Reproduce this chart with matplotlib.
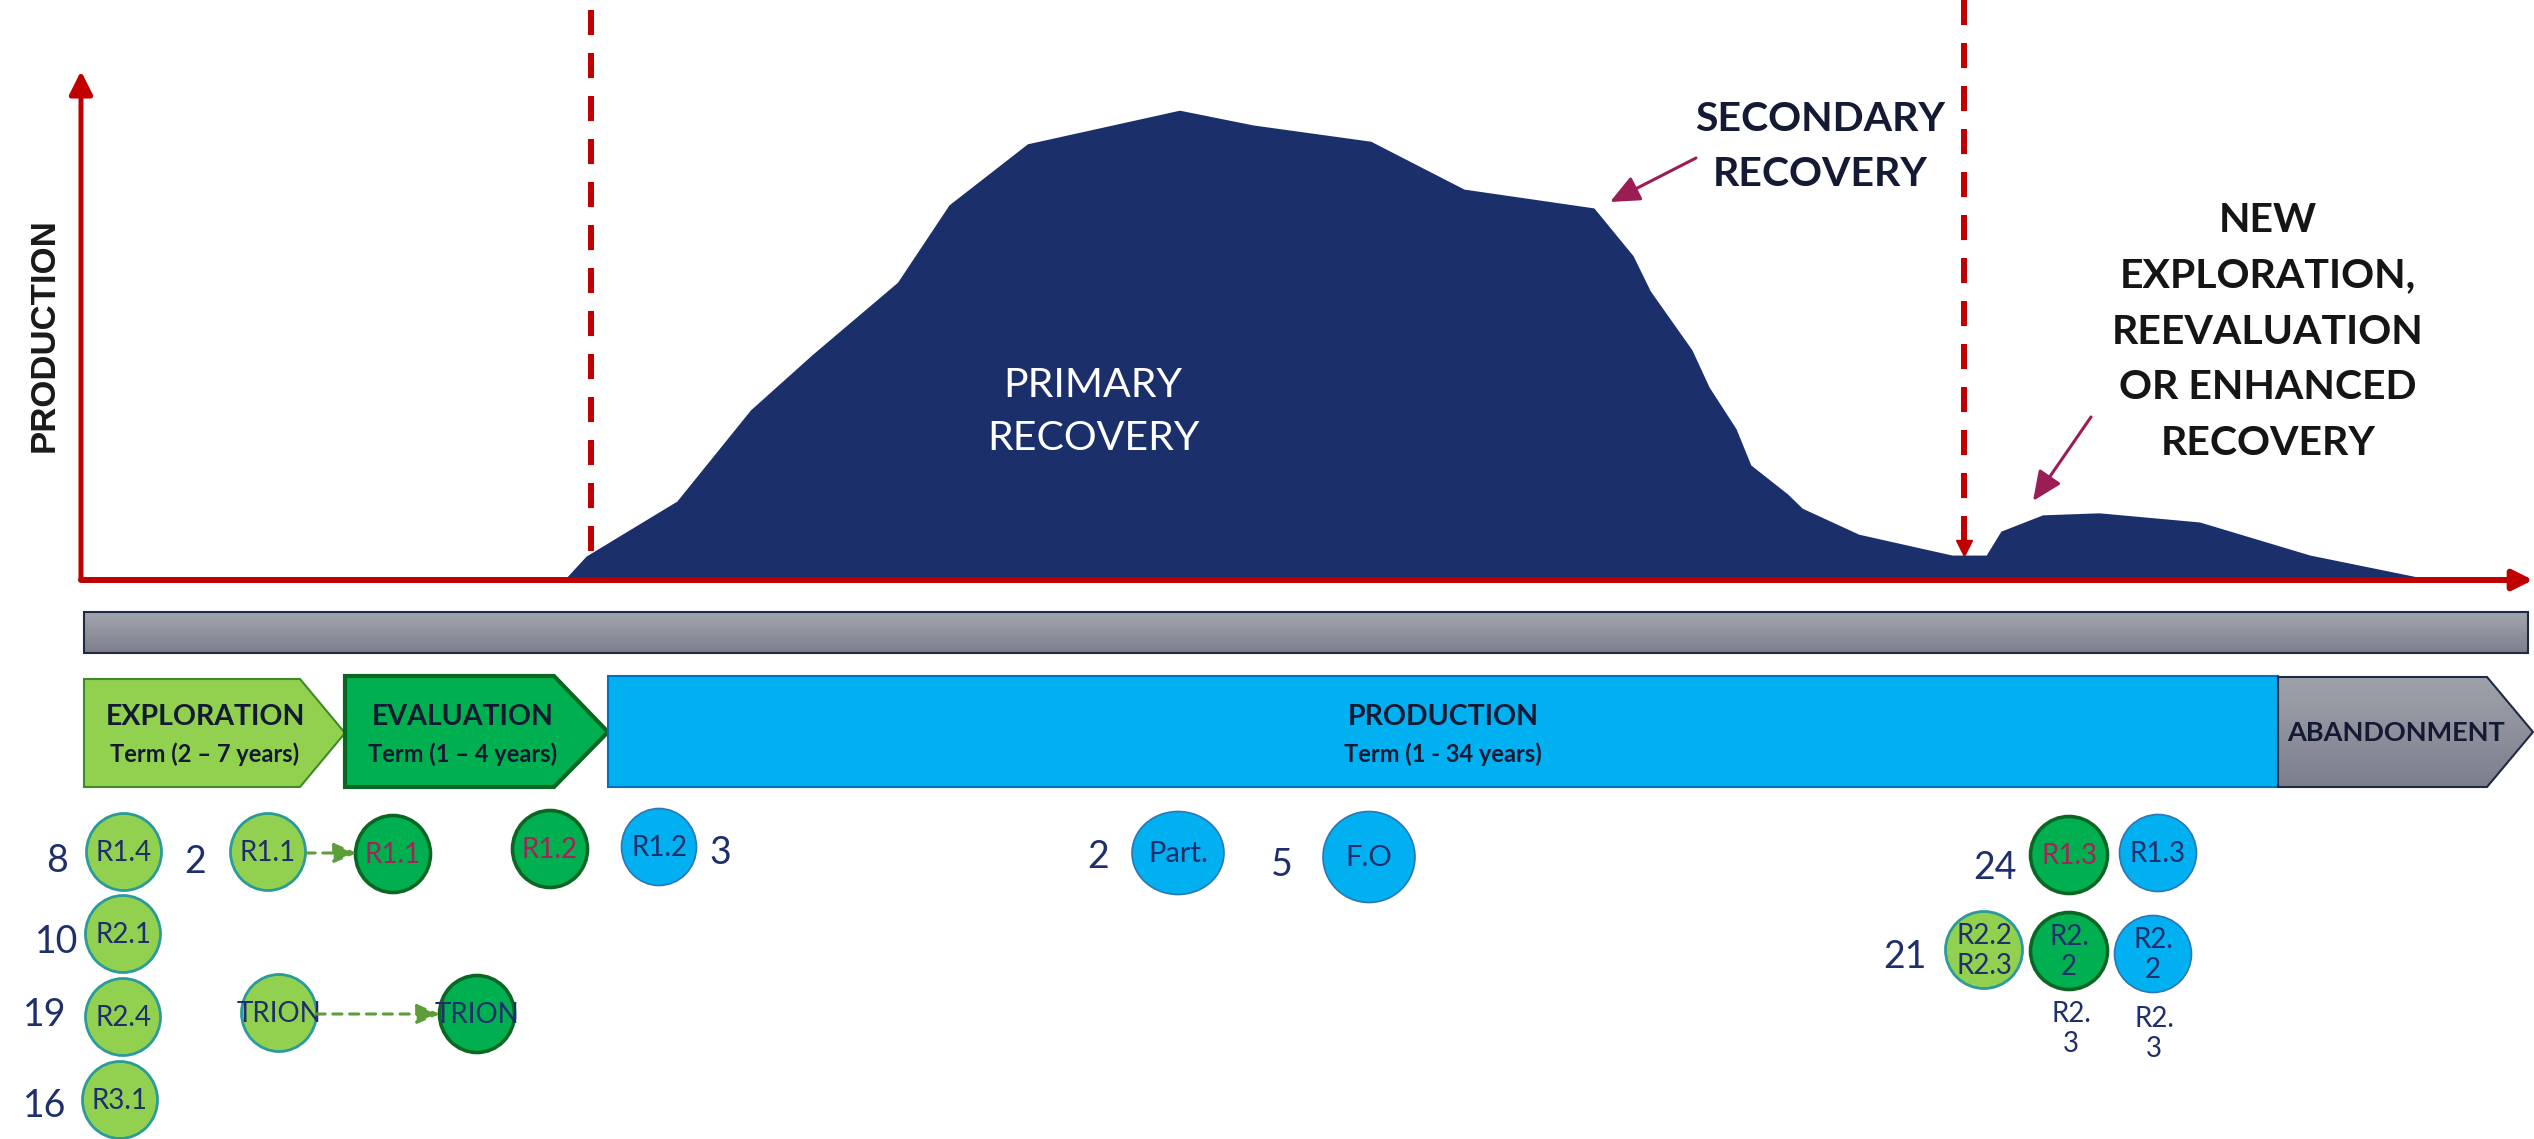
import numpy as np
import matplotlib
matplotlib.use('Agg')
import matplotlib.pyplot as plt
from matplotlib.patches import Polygon, Ellipse
from matplotlib.colors import LinearSegmentedColormap

plt.rcParams['font.family'] = ['Lato', 'DejaVu Sans']

W, H = 2534, 1139

# production profile (time 0-100, production 0-100)
time = [19.7, 20.6, 24.3, 27.3, 29.8, 33.3, 35.4, 38.6, 44.8, 47.8, 52.6, 56.4,
        61.7, 63.3, 64.0, 65.7, 66.4, 67.5, 68.1, 69.6, 70.2, 72.5, 76.3, 77.7,
        78.3, 80.0, 82.3, 86.4, 90.9, 95.9]
production = [0.0, 4.7, 15.5, 33.4, 44.2, 58.5, 73.7, 85.7, 92.3, 89.4, 86.2, 76.8,
              73.1, 63.7, 56.8, 45.2, 37.9, 29.7, 22.6, 16.9, 14.1, 9.0, 4.9, 4.9,
              9.6, 12.8, 13.2, 11.4, 4.9, 0.0]
milestones = [20.8, 76.8]

phase_names = ['EXPLORATION', 'EVALUATION', 'PRODUCTION', 'ABANDONMENT']
phase_terms = ['Term (2 – 7 years)', 'Term (1 – 4 years)', 'Term (1 - 34 years)', '']

# contract counts and clauses under each phase
counts = ['8', '10', '19', '16', '2', '3', '2', '5', '24', '21']
circle_labels = ['R1.4', 'R2.1', 'R2.4', 'R3.1', 'R1.1', 'R1.1', 'TRION', 'TRION',
                 'R1.2', 'R1.2', 'Part.', 'F.O', 'R1.3', 'R1.3',
                 'R2.2\nR2.3', 'R2.\n2', 'R2.\n2']
circle_kinds = ['exp', 'exp', 'exp', 'exp', 'exp', 'eva', 'exp', 'eva',
                'eva', 'pro', 'pro', 'pro', 'eva', 'pro', 'exp', 'eva', 'pro']
circle_alert = [False, False, False, False, False, True, False, False,
                True, False, False, False, True, False, False, False, False]

RED = '#C00000'
NAVY = '#1B2F6B'
TXT = '#1F2F6B'
DARK = '#141A33'
MAG = '#A3245A'
face = {'exp': '#92D050', 'eva': '#00B050', 'pro': '#00B0F0'}
edge = {'exp': '#2A9A9A', 'eva': '#0B6623', 'pro': '#2E75B6'}
elw = {'exp': 2.0, 'eva': 2.6, 'pro': 1.2}

# layout (pixels)
count_pos = [(57, 861), (57, 942), (45, 1015), (45, 1106), (195, 862), (720, 853),
             (1098, 857), (1282, 865), (1995, 868), (1905, 957)]
circle_pos = [(124, 852), (123, 934), (123, 1017), (120, 1100), (268, 852), (393, 854),
              (279, 1013), (477, 1014), (550, 849), (659, 847), (1178, 853), (1369, 857),
              (2069, 855), (2158, 853), (1984, 950), (2069, 951), (2153, 954)]
circle_size = [(75, 77)] * 10 + [(92, 83), (92, 91)] + [(77, 77)] * 5

fig = plt.figure(figsize=(W / 100, H / 100), dpi=100)
bg = fig.add_axes([0, 0, 1, 1])
bg.axis('off')


def gradient(patch, top, bottom):
    bg.add_patch(patch)
    v = patch.get_xy()
    grad = np.linspace(0, 1, 256).reshape(-1, 1)
    cmap = LinearSegmentedColormap.from_list('g', [top, bottom])
    im = bg.imshow(grad, cmap=cmap, aspect='auto', origin='upper',
                   extent=(v[:, 0].min(), v[:, 0].max(), v[:, 1].max(), v[:, 1].min()),
                   zorder=patch.get_zorder() - 0.1)
    im.set_clip_path(patch)


# grey timeline bar
bar = Polygon([(84, 612), (2528, 612), (2528, 653), (84, 653)], closed=True,
              facecolor='none', edgecolor='#1F2A44', lw=1.5, zorder=3)
gradient(bar, '#A3A5AE', '#7C7E8C')

# phase arrows
shapes = [
    [(84, 679), (300, 679), (345, 733), (300, 787), (84, 787)],
    [(345, 676), (554, 676), (608, 732), (554, 787), (345, 787)],
    [(608, 676), (2278, 676), (2278, 787), (608, 787)],
    [(2278, 677), (2487, 677), (2533, 732), (2487, 787), (2278, 787)],
]
ph_face = ['#92D050', '#00B050', '#00B0F0', 'none']
ph_edge = ['#3F8A2A', '#0B6623', '#0070C0', '#1F2A44']
ph_lw = [1.5, 3.0, 1.5, 1.5]
for i, pts in enumerate(shapes):
    p = Polygon(pts, closed=True, facecolor=ph_face[i], edgecolor=ph_edge[i],
                lw=ph_lw[i], zorder=3)
    if i == 3:
        gradient(p, '#A0A2AB', '#7C7E8C')
    else:
        bg.add_patch(p)

name_x = [205, 463, 1443, 2396]
for i, name in enumerate(phase_names):
    if phase_terms[i]:
        bg.text(name_x[i], 717, name, ha='center', va='center', fontsize=20.5,
                fontweight='bold', color=DARK, zorder=5)
        bg.text(name_x[i], 754, phase_terms[i], ha='center', va='center', fontsize=17,
                fontweight='bold', color=DARK, zorder=5)
    else:
        bg.text(name_x[i], 733, name, ha='center', va='center', fontsize=19.5,
                fontweight='bold', color=DARK, zorder=5)

# circles
for i, lab in enumerate(circle_labels):
    k = circle_kinds[i]
    (cx, cy), (w, h) = circle_pos[i], circle_size[i]
    bg.add_patch(Ellipse((cx, cy), w, h, facecolor=face[k], edgecolor=edge[k],
                         lw=elw[k], zorder=4))
    fs = 21 if lab in ('Part.', 'F.O') else 20
    bg.text(cx, cy + 1, lab, ha='center', va='center', fontsize=fs,
            color=MAG if circle_alert[i] else TXT, linespacing=1.2, zorder=5)

for (x, y) in [(2071, 1029), (2154, 1034)]:
    bg.text(x, y, 'R2.\n3', ha='center', va='center', fontsize=20, color=TXT,
            linespacing=1.2, zorder=5)

for (x, y), c in zip(count_pos, counts):
    bg.text(x, y, c, ha='center', va='center', fontsize=27, color=TXT, zorder=5)

# dashed links between evaluation circles
for (xa, xb, y) in [(306, 357, 853), (316, 440, 1014)]:
    bg.annotate('', xy=(xb, y), xytext=(xa, y),
                arrowprops=dict(arrowstyle='-|>,head_length=0.7,head_width=0.3',
                                color='#5E9E3A', lw=2.2, ls=(0, (3, 2.5)),
                                shrinkA=0, shrinkB=0, mutation_scale=20), zorder=5)

bg.text(44, 335, 'PRODUCTION', rotation=90, ha='center', va='center', fontsize=25,
        fontweight='bold', family='Liberation Sans', color='#1A1A1A')
bg.text(1820, 147, 'SECONDARY\nRECOVERY', ha='center', va='center', fontsize=29.5,
        fontweight='bold', color=DARK, linespacing=1.6, zorder=6)
bg.text(2268, 332, 'NEW\nEXPLORATION,\nREEVALUATION\nOR ENHANCED\nRECOVERY', ha='center',
        va='center', fontsize=29.5, fontweight='bold', color='#151515', linespacing=1.63,
        zorder=6)
for (xa, ya, xb, yb) in [(1696, 158, 1610, 202), (2091, 417, 2033, 501)]:
    bg.annotate('', xy=(xb, yb), xytext=(xa, ya),
                arrowprops=dict(arrowstyle='-|>,head_length=0.9,head_width=0.4',
                                color='#9B1D55', lw=2.2, shrinkA=0, shrinkB=0,
                                mutation_scale=20), zorder=6)

bg.set_xlim(0, W)
bg.set_ylim(H, 0)

# production curve axes: x 81..2533 px, y 580..71 px
x0, x1, y0, y1 = 81, 2533, 580, 71
ax = fig.add_axes([x0 / W, 1 - y0 / H, (x1 - x0) / W, (y0 - y1) / H])
ax.set_xlim(0, 100)
ax.set_ylim(0, 100)
ax.patch.set_alpha(0)
ax.axis('off')

ax.plot([milestones[0]] * 2, [112, 5.3], color=RED, lw=4.3, ls=(0, (4.2, 3.0)),
        clip_on=False, zorder=1)
ax.plot([milestones[1]] * 2, [114, 5.8], color=RED, lw=4.3, ls=(0, (4.2, 3.0)),
        clip_on=False, zorder=1)
ax.plot(milestones[1], 6.2, marker='v', ms=11, color=RED, clip_on=False, zorder=1)

ax.fill_between(time, production, 0, color=NAVY, lw=0, zorder=2)

ax.text(1093, 412, 'PRIMARY\nRECOVERY', transform=bg.transData, ha='center',
        va='center', fontsize=29.5, color='white', linespacing=1.55, zorder=6)

ax.annotate('', xy=(100, 0), xytext=(0, 0),
            arrowprops=dict(arrowstyle='-|>,head_length=0.6,head_width=0.3', color=RED,
                            lw=4.3, shrinkA=0, shrinkB=0, mutation_scale=20),
            annotation_clip=False, zorder=3)
ax.annotate('', xy=(0, 100), xytext=(0, 0),
            arrowprops=dict(arrowstyle='-|>,head_length=0.7,head_width=0.35', color=RED,
                            lw=3.6, shrinkA=0, shrinkB=0, mutation_scale=20),
            annotation_clip=False, zorder=3)

fig.savefig('out.png', dpi=100, facecolor='white')
